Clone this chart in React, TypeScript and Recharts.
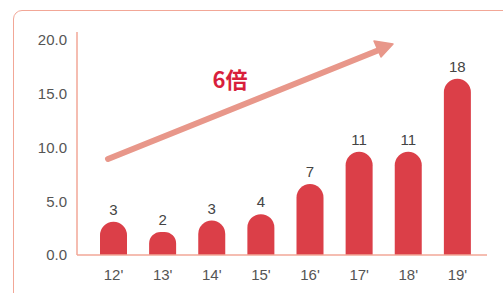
import { BarChart, Bar, XAxis, YAxis, LabelList } from 'recharts'

// fiscal years shown on the x axis
const years = ["12'", "13'", "14'", "15'", "16'", "17'", "18'", "19'"]
// bar heights as drawn in the picture
const heights = [3.1, 2.15, 3.2, 3.8, 6.6, 9.6, 9.6, 16.4]
// numbers printed above the bars
const valueLabels = ['3', '2', '3', '4', '7', '11', '11', '18']
const yTicks = [0, 5, 10, 15, 20]

const data = years.map((year, i) => ({ year, value: heights[i], label: valueLabels[i] }))

const barColor = '#db3f48'
const lineColor = '#f2a797'
const font = '"Liberation Sans", Arial, sans-serif'

export default function App() {
  return (
    <div style={{ position: 'fixed', top: 0, left: 0, width: 503, height: 293, overflow: 'hidden', background: '#fff' }}>
      {/* card outline */}
      <div
        style={{
          position: 'absolute',
          left: 13,
          top: 10,
          width: 560,
          height: 340,
          border: `1.5px solid ${lineColor}`,
          borderRadius: 9,
          boxSizing: 'border-box'
        }}
      />
      <div style={{ position: 'absolute', left: 0, top: 0 }}>
        <BarChart width={503} height={293} data={data} margin={{ top: 32, right: 16, bottom: 8, left: 0 }}>
          <XAxis
            dataKey="year"
            axisLine={{ stroke: lineColor, strokeWidth: 1.5 }}
            tickLine={false}
            tickMargin={8}
            height={30}
            padding={{ left: 12, right: 5 }}
            tick={{ fill: '#555', fontSize: 15, fontFamily: font }}
          />
          <YAxis
            domain={[0, 20.75]}
            ticks={yTicks}
            width={77}
            axisLine={{ stroke: lineColor, strokeWidth: 1.5 }}
            tickLine={false}
            tickMargin={4}
            tickFormatter={(v) => v.toFixed(1)}
            tick={{ fill: '#555', fontSize: 15, fontFamily: font }}
          />
          <Bar dataKey="value" fill={barColor} barSize={27} radius={[13.5, 13.5, 0, 0]} isAnimationActive={false}>
            <LabelList dataKey="label" position="top" offset={7} fill="#444" fontSize={15} fontFamily={font} />
          </Bar>
        </BarChart>
      </div>
      {/* growth arrow annotation */}
      <svg width={503} height={293} style={{ position: 'absolute', left: 0, top: 0, pointerEvents: 'none' }}>
        <line x1={108} y1={159} x2={379} y2={50} stroke="#e8978a" strokeWidth={6} strokeLinecap="round" />
        <polygon points="393,44 374,41 381,57" fill="#e8978a" stroke="#e8978a" strokeWidth={1.5} strokeLinejoin="round" />
        <text
          x={230}
          y={88}
          textAnchor="middle"
          fill="#d81f3c"
          fontSize={22}
          fontWeight="bold"
          fontFamily='"Noto Sans CJK JP", "Noto Sans", sans-serif'
        >
          6倍
        </text>
      </svg>
    </div>
  )
}
